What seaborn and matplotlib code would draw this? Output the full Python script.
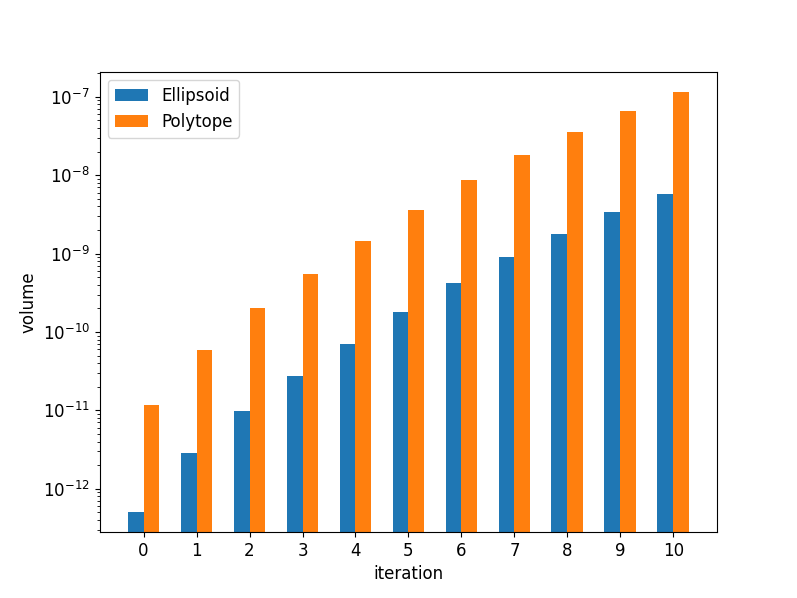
import matplotlib
matplotlib.use("Agg")
import matplotlib.pyplot as plt
import seaborn as sns
import pandas as pd

iterations = list(range(11))
ellipsoid = [5.1e-13, 2.88e-12, 9.8e-12, 2.77e-11, 7.1e-11, 1.77e-10, 4.2e-10,
             9.05e-10, 1.8e-9, 3.35e-9, 5.8e-9]
polytope = [1.16e-11, 5.9e-11, 2.0e-10, 5.56e-10, 1.45e-9, 3.57e-9, 8.6e-9,
            1.82e-8, 3.57e-8, 6.5e-8, 1.14e-7]
series_names = ["Ellipsoid", "Polytope"]

plt.rcParams["font.size"] = 12

df = pd.DataFrame({
    "iteration": iterations * 2,
    "volume": ellipsoid + polytope,
    "method": [series_names[0]] * len(iterations) + [series_names[1]] * len(iterations),
})

fig, ax = plt.subplots(figsize=(7.97, 5.98), dpi=100)
sns.barplot(data=df, x="iteration", y="volume", hue="method", width=0.6,
            palette=["#1f77b4", "#ff7f0e"], saturation=1, ax=ax)
ax.set_yscale("log")
ax.set_xlim(-0.83, 10.83)
ax.set_ylim(2.79e-13, 2.08e-7)
ax.set_xlabel("iteration")
ax.set_ylabel("volume")
ax.legend(loc="upper left", title=None)
fig.subplots_adjust(left=0.125, right=0.9, top=0.88, bottom=0.11)
fig.savefig("out.png", dpi=100)
